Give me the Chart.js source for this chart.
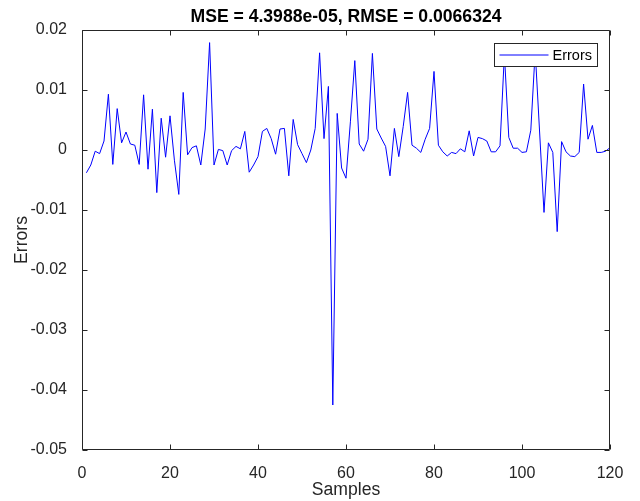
<!DOCTYPE html>
<html>
<head>
<meta charset="utf-8">
<script src="https://cdn.jsdelivr.net/npm/chart.js@4/dist/chart.umd.min.js"></script>
<style>
  body { margin: 0; background: #fff; }
  #wrap { width: 640px; height: 501px; }
</style>
</head>
<body>
<div id="wrap"><canvas id="errChart" width="640" height="501"></canvas></div>
<script>
var titleText = 'MSE = 4.3988e-05, RMSE = 0.0066324'
var seriesLabel = 'Errors'
var xLabel = 'Samples'
var yLabel = 'Errors'

// prediction error per sample (samples 1..120)
var errors = [
    -0.0038, -0.0025, -0.0002, -0.0006, 0.0015, 0.0093, -0.0024, 0.0069, 0.0012, 0.0030,
    0.0010, 0.0008, -0.0024, 0.0092, -0.0032, 0.0068, -0.0071, 0.0053, -0.0012, 0.0057,
    -0.0017, -0.0074, 0.0096, -0.0008, 0.0004, 0.0007, -0.0025, 0.0035, 0.0179, -0.0025,
    0.0001, -0.0001, -0.0025, -0.0001, 0.0006, 0.0002, 0.0031, -0.0037, -0.0025, -0.0011,
    0.0031, 0.0036, 0.0019, -0.0007, 0.0035, 0.0036, -0.0043, 0.0051, 0.0009, -0.0006,
    -0.0021, 0.0000, 0.0036, 0.0162, 0.0019, 0.0106, -0.0425, 0.0061, -0.0030, -0.0047,
    0.0047, 0.0149, 0.0010, -0.0002, 0.0018, 0.0161, 0.0035, 0.0020, 0.0006, -0.0043,
    0.0036, -0.0011, 0.0039, 0.0096, 0.0008, 0.0003, -0.0004, 0.0018, 0.0036, 0.0131,
    0.0008, -0.0003, -0.0010, -0.0004, -0.0006, 0.0002, -0.0003, 0.0032, -0.0010, 0.0021,
    0.0019, 0.0015, -0.0003, -0.0003, 0.0007, 0.0160, 0.0021, 0.0003, 0.0003, -0.0004,
    -0.0003, 0.0033, 0.0165, 0.0030, -0.0104, 0.0012, -0.0004, -0.0136, 0.0014, -0.0003,
    -0.0010, -0.0011, -0.0004, 0.0110, 0.0018, 0.0041, -0.0004, -0.0004, -0.0002, 0.0004
]

var xMin = 0, xMax = 120, xStep = 20
var yMin = -0.05, yMax = 0.02, yStep = 0.01

var axisColor = '#262626'
var lineColor = 'rgb(0,0,255)'
var fontFamily = '"Liberation Sans", Arial, Helvetica, sans-serif'

var points = errors.map(function (e, i) {
    return { x: i + 1, y: e }
})

// box around the axes, inward ticks on all four sides, and the legend inside the plot
var axesBox = {
    id: 'axesBox',
    afterDatasetsDraw: function (chart) {
        var ctx = chart.ctx
        var a = chart.chartArea
        var xs = chart.scales.x
        var ys = chart.scales.y
        var L = Math.round(a.left) + 0.5
        var R = Math.round(a.right) - 0.5
        var T = Math.round(a.top) + 0.5
        var B = Math.round(a.bottom) - 0.5
        var tl = 5

        ctx.save()
        ctx.strokeStyle = axisColor
        ctx.lineWidth = 1
        ctx.beginPath()
        ctx.rect(L, T, R - L, B - T)
        xs.ticks.forEach(function (t) {
            var px = Math.round(xs.getPixelForValue(t.value)) + 0.5
            ctx.moveTo(px, B); ctx.lineTo(px, B - tl)
            ctx.moveTo(px, T); ctx.lineTo(px, T + tl)
        })
        ys.ticks.forEach(function (t) {
            var py = Math.round(ys.getPixelForValue(t.value)) + 0.5
            ctx.moveTo(L, py); ctx.lineTo(L + tl, py)
            ctx.moveTo(R, py); ctx.lineTo(R - tl, py)
        })
        ctx.stroke()

        // legend
        var ds = chart.data.datasets[0]
        var bx = Math.round(a.right) - 115.5
        var by = Math.round(a.top) + 13.5
        var bw = 103, bh = 23
        ctx.fillStyle = '#fff'
        ctx.fillRect(bx, by, bw, bh)
        ctx.strokeStyle = axisColor
        ctx.strokeRect(bx, by, bw, bh)
        ctx.strokeStyle = ds.borderColor
        ctx.lineWidth = ds.borderWidth
        ctx.beginPath()
        ctx.moveTo(bx + 5, by + bh / 2)
        ctx.lineTo(bx + 54, by + bh / 2)
        ctx.stroke()
        ctx.fillStyle = '#000'
        ctx.font = '14.5px ' + fontFamily
        ctx.textAlign = 'left'
        ctx.textBaseline = 'middle'
        ctx.fillText(ds.label, bx + 58, by + bh / 2 + 0.5)
        ctx.restore()
    }
}

var errChart = new Chart(document.getElementById('errChart'), {
    type: 'line',
    data: {
        datasets: [{
            label: seriesLabel,
            data: points,
            borderColor: lineColor,
            borderWidth: 1,
            pointRadius: 0,
            tension: 0,
            fill: false
        }]
    },
    options: {
        responsive: false,
        animation: false,
        layout: { padding: { top: 0, left: 0, right: 30, bottom: 0 } },
        plugins: {
            legend: { display: false },
            tooltip: { enabled: false },
            title: {
                display: true,
                text: titleText,
                fullSize: false,
                color: '#000',
                font: { family: fontFamily, size: 17.6, weight: 'bold', lineHeight: 1.2 },
                padding: { top: 6.4, bottom: 2.5 }
            }
        },
        scales: {
            x: {
                type: 'linear',
                min: xMin,
                max: xMax,
                grid: { display: false },
                border: { display: false },
                ticks: {
                    stepSize: xStep,
                    color: axisColor,
                    padding: 6.4,
                    maxRotation: 0,
                    font: { family: fontFamily, size: 16 }
                },
                title: {
                    display: true,
                    text: xLabel,
                    color: axisColor,
                    font: { family: fontFamily, size: 17.6 },
                    padding: { top: 0, bottom: 0.4 }
                },
                afterFit: function (scale) { scale.height = 51 }
            },
            y: {
                min: yMin,
                max: yMax,
                grid: { display: false },
                border: { display: false },
                ticks: {
                    stepSize: yStep,
                    color: axisColor,
                    padding: 7,
                    font: { family: fontFamily, size: 16 },
                    callback: function (v) { return Number(v.toFixed(2)).toString() }
                },
                title: {
                    display: true,
                    text: yLabel,
                    color: axisColor,
                    font: { family: fontFamily, size: 17.6 },
                    padding: { top: 11.4, bottom: 0 }
                },
                afterFit: function (scale) { scale.width = 82 }
            }
        }
    },
    plugins: [axesBox]
});
</script>
</body>
</html>
